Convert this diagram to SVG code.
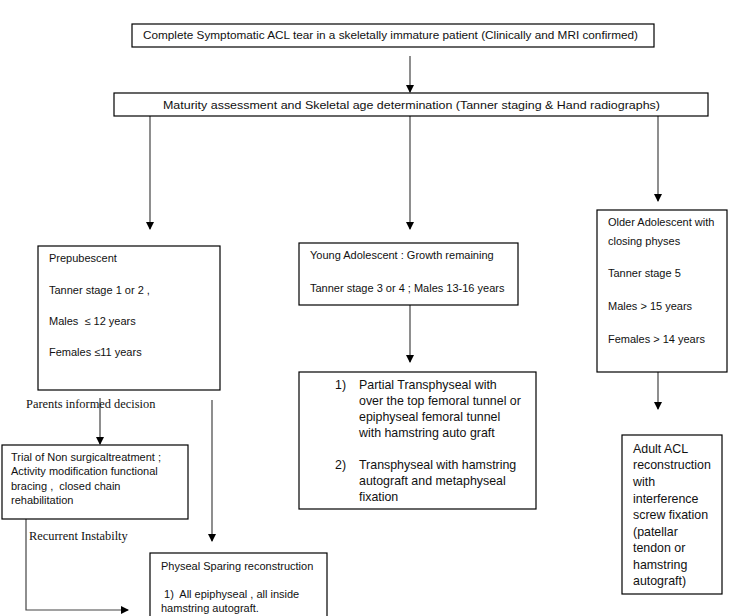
<svg xmlns="http://www.w3.org/2000/svg" width="742" height="616" viewBox="0 0 742 616">
<style>
.box{fill:#fff;stroke:#000;stroke-width:1.2}
.t{font-family:"Liberation Sans",Arial,sans-serif;font-size:11px;fill:#111;white-space:pre}
.b{font-size:12.4px}
.s{font-family:"Liberation Serif","Times New Roman",serif;font-size:12.4px;fill:#111}
.c{stroke:#444;stroke-width:1.2;fill:none}
</style>
<defs>
<marker id="ah" markerWidth="8" markerHeight="8" refX="7" refY="4" orient="auto" markerUnits="userSpaceOnUse">
<path d="M0,0 L8,4 L0,8 Z" fill="#000"/>
</marker>
</defs>
<rect width="742" height="616" fill="#fff"/>
<g id="connectors">
<line class="c" x1="410" y1="56" x2="410" y2="92" marker-end="url(#ah)"/>
<line class="c" x1="150" y1="116" x2="150" y2="229" marker-end="url(#ah)"/>
<line class="c" x1="410" y1="116" x2="410" y2="229" marker-end="url(#ah)"/>
<line class="c" x1="658" y1="116" x2="658" y2="201" marker-end="url(#ah)"/>
<line class="c" x1="410" y1="305" x2="410" y2="362" marker-end="url(#ah)"/>
<line class="c" x1="658" y1="372" x2="658" y2="409" marker-end="url(#ah)"/>
<line class="c" x1="100" y1="398" x2="100" y2="444" marker-end="url(#ah)"/>
<line class="c" x1="212" y1="400" x2="212" y2="541" marker-end="url(#ah)"/>
<polyline class="c" points="26,503 26,610 128,610" marker-end="url(#ah)"/>
</g>
<g id="n-top">
<rect class="box" x="132" y="24" width="522" height="23"/>
<text class="t" x="143" y="39" textLength="495" lengthAdjust="spacingAndGlyphs">Complete Symptomatic ACL tear in a skeletally immature patient (Clinically and MRI confirmed)</text>
</g>
<g id="n-maturity">
<rect class="box" x="114" y="93" width="594" height="23"/>
<text class="t" x="163" y="109" font-size="12" textLength="497" lengthAdjust="spacingAndGlyphs">Maturity assessment and Skeletal age determination (Tanner staging &amp; Hand radiographs)</text>
</g>
<g id="n-prepubescent">
<rect class="box" x="38" y="246" width="182" height="144"/>
<text class="t" x="49" y="262">Prepubescent</text>
<text class="t" x="49" y="294">Tanner stage 1 or 2 ,</text>
<text class="t" x="49" y="325">Males  ≤ 12 years</text>
<text class="t" x="49" y="356">Females ≤11 years</text>
</g>
<g id="n-young">
<rect class="box" x="299" y="243" width="219" height="62"/>
<text class="t" x="310" y="259">Young Adolescent : Growth remaining</text>
<text class="t" x="310" y="292">Tanner stage 3 or 4 ; Males 13-16 years</text>
</g>
<g id="n-older">
<rect class="box" x="597" y="210" width="130" height="162"/>
<text class="t" x="608" y="226">Older Adolescent with</text>
<text class="t" x="608" y="245">closing physes</text>
<text class="t" x="608" y="277">Tanner stage 5</text>
<text class="t" x="608" y="310">Males &gt; 15 years</text>
<text class="t" x="608" y="343">Females &gt; 14 years</text>
</g>
<g id="n-transphyseal">
<rect class="box" x="299" y="372" width="237" height="137"/>
<text class="t b" x="335" y="389">1)</text>
<text class="t b" x="359" y="389">Partial Transphyseal with</text>
<text class="t b" x="359" y="405">over the top femoral tunnel or</text>
<text class="t b" x="359" y="421">epiphyseal femoral tunnel</text>
<text class="t b" x="359" y="437">with hamstring auto graft</text>
<text class="t b" x="335" y="469">2)</text>
<text class="t b" x="359" y="469">Transphyseal with hamstring</text>
<text class="t b" x="359" y="485">autograft and metaphyseal</text>
<text class="t b" x="359" y="501">fixation</text>
</g>
<g id="n-adult">
<rect class="box" x="622" y="435" width="100" height="159"/>
<text class="t b" x="633" y="453">Adult ACL</text>
<text class="t b" x="633" y="469">reconstruction</text>
<text class="t b" x="633" y="486">with</text>
<text class="t b" x="633" y="503">interference</text>
<text class="t b" x="633" y="519">screw fixation</text>
<text class="t b" x="633" y="536">(patellar</text>
<text class="t b" x="633" y="552">tendon or</text>
<text class="t b" x="633" y="569">hamstring</text>
<text class="t b" x="633" y="585">autograft)</text>
</g>
<g id="l-parents">
<text class="s" x="26" y="408">Parents informed decision</text>
</g>
<g id="n-trial">
<rect class="box" x="2" y="445" width="186" height="74"/>
<text class="t" x="11" y="461">Trial of Non surgicaltreatment ;</text>
<text class="t" x="11" y="475">Activity modification functional</text>
<text class="t" x="11" y="490">bracing ,  closed chain</text>
<text class="t" x="11" y="504">rehabilitation</text>
</g>
<g id="l-recurrent">
<text class="s" x="29" y="540">Recurrent Instabilty</text>
</g>
<g id="n-physeal">
<rect class="box" x="150" y="553" width="177" height="70"/>
<text class="t" x="161" y="570">Physeal Sparing reconstruction</text>
<text class="t" x="161" y="598"> 1)  All epiphyseal , all inside</text>
<text class="t" x="161" y="612">hamstring autograft.</text>
</g>
</svg>
